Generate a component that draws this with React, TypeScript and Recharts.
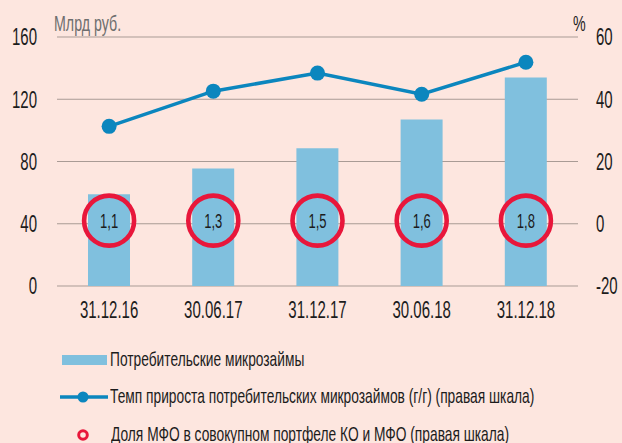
import React from "react";
import { ComposedChart, Bar, Line, XAxis, YAxis, CartesianGrid } from "recharts";

document.body.style.margin = "0";

const categories = ["31.12.16", "30.06.17", "31.12.17", "30.06.18", "31.12.18"];
const consumerLoans = [59, 75.5, 88.5, 107, 134];
const growthRate = [31.3, 42.6, 48.4, 41.6, 51.9];
const mfoShare = [1.1, 1.3, 1.5, 1.6, 1.8];
const shareMarkerLevel = [1, 1, 1, 1, 1];
const leftTicks = [0, 40, 80, 120, 160];
const rightTicks = [-20, 0, 20, 40, 60];
const legendLabels = [
  "Потребительские микрозаймы",
  "Темп прироста потребительских микрозаймов (г/г) (правая шкала)",
  "Доля МФО в совокупном портфеле КО и МФО (правая шкала)",
];
const leftUnit = "Млрд руб.";
const rightUnit = "%";

const data = categories.map((c, i) => ({
  cat: c,
  loans: consumerLoans[i],
  growth: growthRate[i],
  share: mfoShare[i],
  marker: shareMarkerLevel[i],
}));

const FONT = "'Liberation Sans', Arial, sans-serif";
const BG = "#fde6df";
const BAR = "#80c0de";
const LINE = "#0b86be";
const RED = "#e8173b";
const GRID = "#a99b95";
const TEXT = "#1c1c1c";
const SX = 0.79;
const SY = 1.22;
const LSX = 0.81;

const fmt = (v: number) => String(v).replace(".", ",");

const YTick = (props: any) => {
  const { x, y, payload, textAnchor } = props;
  return (
    <g transform={`translate(${x},${y}) scale(${SX},${SY})`}>
      <text x={0} y={0} dy="0.36em" textAnchor={textAnchor} fill={TEXT} fontSize={19} fontFamily={FONT}>
        {payload.value}
      </text>
    </g>
  );
};

const XTick = (props: any) => {
  const { x, y, payload } = props;
  return (
    <g transform={`translate(${x},${y}) scale(${SX},${SY})`}>
      <text x={0} y={0} textAnchor="middle" fill={TEXT} fontSize={19} fontFamily={FONT}>
        {payload.value}
      </text>
    </g>
  );
};

const ShareDot = (props: any) => {
  const { cx, cy, payload, index } = props;
  if (cx == null || cy == null) return null;
  return (
    <g key={`share-${index}`}>
      <circle cx={cx} cy={cy} r={25} fill="none" stroke={RED} strokeWidth={4.6} />
      <g transform={`translate(${cx},${cy}) scale(${SX},${SY})`}>
        <text x={0} y={0} dy="0.36em" textAnchor="middle" fill={TEXT} fontSize={16.5} fontFamily={FONT}>
          {fmt(payload.share)}
        </text>
      </g>
    </g>
  );
};

const LegendText = ({ children }: { children: React.ReactNode }) => (
  <span
    style={{
      display: "inline-block",
      transform: `scale(${LSX},${SY})`,
      transformOrigin: "left center",
      fontFamily: FONT,
      fontSize: 17,
      color: TEXT,
      whiteSpace: "nowrap",
      lineHeight: "20px",
    }}
  >
    {children}
  </span>
);

const row: React.CSSProperties = {
  position: "absolute",
  left: 0,
  width: 622,
  height: 20,
  display: "flex",
  alignItems: "center",
  whiteSpace: "nowrap",
};

export default function App() {
  return (
    <div style={{ position: "relative", width: 622, height: 443, background: BG, overflow: "hidden" }}>
      <ComposedChart
        width={622}
        height={443}
        data={data}
        margin={{ top: 37, right: 0, bottom: 127, left: 0 }}
        barCategoryGap="30%"
      >
        <CartesianGrid yAxisId="left" vertical={false} stroke={GRID} strokeWidth={1} />
        <XAxis
          dataKey="cat"
          axisLine={false}
          tickLine={false}
          tickSize={0}
          tickMargin={32}
          height={30}
          tick={<XTick />}
          interval={0}
        />
        <YAxis
          yAxisId="left"
          orientation="left"
          domain={[0, 160]}
          ticks={leftTicks}
          width={57}
          axisLine={false}
          tickLine={false}
          tickSize={0}
          tickMargin={20}
          tick={<YTick />}
        />
        <YAxis
          yAxisId="right"
          orientation="right"
          domain={[-20, 60]}
          ticks={rightTicks}
          width={44}
          axisLine={false}
          tickLine={false}
          tickSize={0}
          tickMargin={18}
          tick={<YTick />}
        />
        <Bar yAxisId="left" dataKey="loans" fill={BAR} barSize={42} isAnimationActive={false} />
        <Line
          yAxisId="right"
          dataKey="marker"
          stroke="none"
          dot={<ShareDot />}
          activeDot={false}
          isAnimationActive={false}
        />
        <Line
          yAxisId="right"
          dataKey="growth"
          stroke={LINE}
          strokeWidth={3.5}
          dot={{ r: 7.5, fill: LINE, stroke: "none" }}
          activeDot={false}
          isAnimationActive={false}
        />
      </ComposedChart>

      <div style={{ position: "absolute", left: 54, top: 13, color: "#6e6e6e" }}>
        <span style={{ display: "inline-block", transform: `scale(${SX},${SY})`, transformOrigin: "left top", fontFamily: FONT, fontSize: 18, lineHeight: "18px", whiteSpace: "nowrap" }}>
          {leftUnit}
        </span>
      </div>
      <div style={{ position: "absolute", left: 573, top: 13, color: TEXT }}>
        <span style={{ display: "inline-block", transform: `scale(${SX},${SY})`, transformOrigin: "left top", fontFamily: FONT, fontSize: 18, lineHeight: "18px" }}>
          {rightUnit}
        </span>
      </div>

      <div style={{ ...row, top: 350 }}>
        <div style={{ marginLeft: 62, width: 45, height: 10, background: BAR, flexShrink: 0 }} />
        <div style={{ marginLeft: 3, flexShrink: 0 }}>
          <LegendText>{legendLabels[0]}</LegendText>
        </div>
      </div>
      <div style={{ ...row, top: 387 }}>
        <svg width={50} height={20} style={{ marginLeft: 59, flexShrink: 0 }}>
          <line x1={1} y1={10} x2={49} y2={10} stroke={LINE} strokeWidth={3.5} />
          <circle cx={24} cy={10} r={5.5} fill={LINE} />
        </svg>
        <div style={{ marginLeft: 1, flexShrink: 0 }}>
          <LegendText>{legendLabels[1]}</LegendText>
        </div>
      </div>
      <div style={{ ...row, top: 425 }}>
        <svg width={14} height={20} style={{ marginLeft: 76, flexShrink: 0 }}>
          <circle cx={7} cy={10} r={4.3} fill="none" stroke={RED} strokeWidth={3} />
        </svg>
        <div style={{ marginLeft: 21, flexShrink: 0 }}>
          <LegendText>{legendLabels[2]}</LegendText>
        </div>
      </div>
    </div>
  );
}
